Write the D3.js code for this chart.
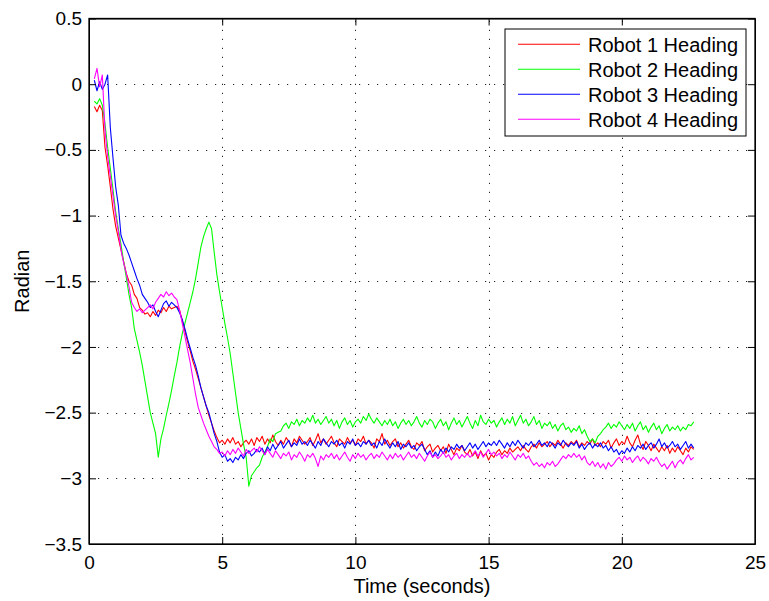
<!DOCTYPE html>
<html>
<head>
<meta charset="utf-8">
<script src="https://cdn.jsdelivr.net/npm/d3@7"></script>
<style>
  html, body { margin: 0; padding: 0; background: #fff; }
  svg { display: block; font-family: "Liberation Sans", Arial, Helvetica, sans-serif; }
  .axis text { font-size: 19px; fill: #000; }
  .axis line, .axis path { stroke: #000; }
</style>
</head>
<body>
<svg id="chart" width="769" height="601"></svg>
<script>
// Heading of each robot (radians), sampled every tStep seconds from tStart.
const tStart = 0.2;
const tStep = 0.1;

const robot1 = [
  -0.17, -0.21, -0.16, -0.2, -0.48, -0.62, -0.78, -0.95, -1.08, -1.17,
  -1.26, -1.35, -1.44, -1.5, -1.53, -1.6, -1.63, -1.7, -1.72, -1.75,
  -1.74, -1.77, -1.73, -1.76, -1.72, -1.74, -1.7, -1.73, -1.69, -1.71,
  -1.7, -1.69, -1.72, -1.8, -1.88, -1.96, -2.03, -2.11, -2.17, -2.24,
  -2.31, -2.38, -2.45, -2.52, -2.58, -2.64, -2.69, -2.73, -2.71, -2.74,
  -2.7, -2.73, -2.69, -2.74, -2.72, -2.76, -2.73, -2.71, -2.74, -2.7,
  -2.75, -2.69, -2.72, -2.68, -2.74, -2.7, -2.73, -2.67, -2.72, -2.75,
  -2.71, -2.74, -2.69, -2.72, -2.76, -2.7, -2.73, -2.68, -2.71, -2.74,
  -2.72, -2.69, -2.75, -2.71, -2.66, -2.73, -2.7, -2.74, -2.71, -2.68,
  -2.73, -2.76, -2.7, -2.72, -2.74, -2.69, -2.73, -2.71, -2.75, -2.7,
  -2.72, -2.68, -2.74, -2.71, -2.73, -2.77, -2.7, -2.72, -2.66, -2.74,
  -2.71, -2.75, -2.72, -2.7, -2.76, -2.73, -2.77, -2.74, -2.71, -2.76,
  -2.78, -2.73, -2.75, -2.72, -2.79, -2.76, -2.74, -2.8, -2.77, -2.75,
  -2.79, -2.76, -2.81, -2.74, -2.78, -2.82, -2.77, -2.79, -2.75, -2.8,
  -2.82, -2.78, -2.83, -2.8, -2.85, -2.79, -2.83, -2.81, -2.86, -2.82,
  -2.84, -2.8, -2.78, -2.82, -2.79, -2.81, -2.77, -2.8, -2.78, -2.76,
  -2.79, -2.75, -2.78, -2.8, -2.76, -2.74, -2.77, -2.73, -2.76, -2.74,
  -2.72, -2.76, -2.73, -2.75, -2.71, -2.74, -2.77, -2.73, -2.75, -2.72,
  -2.74, -2.71, -2.76, -2.73, -2.75, -2.72, -2.74, -2.7, -2.75, -2.73,
  -2.76, -2.72, -2.74, -2.71, -2.77, -2.73, -2.7, -2.75, -2.72, -2.74,
  -2.68, -2.73, -2.76, -2.71, -2.67, -2.74, -2.78, -2.72, -2.75, -2.79,
  -2.74, -2.77, -2.8, -2.76, -2.79, -2.75, -2.81, -2.77, -2.8, -2.76,
  -2.79, -2.82, -2.77, -2.8, -2.76, -2.78
];

const robot2 = [
  -0.13, -0.15, -0.11, -0.16, -0.3, -0.48, -0.64, -0.8, -0.97, -1.1,
  -1.22, -1.35, -1.47, -1.6, -1.7, -1.86, -1.95, -2.04, -2.14, -2.26,
  -2.38, -2.5, -2.58, -2.66, -2.84, -2.7, -2.62, -2.52, -2.43, -2.33,
  -2.22, -2.12, -2.0, -1.9, -1.82, -1.74, -1.66, -1.58, -1.48, -1.36,
  -1.24, -1.16, -1.1, -1.05, -1.1, -1.28, -1.45, -1.58, -1.7, -1.82,
  -1.93, -2.05, -2.2, -2.35, -2.5, -2.62, -2.74, -2.84, -3.06, -2.98,
  -2.95, -2.92, -2.9, -2.84, -2.8, -2.76, -2.7, -2.72, -2.66, -2.65,
  -2.64, -2.6, -2.58, -2.62, -2.57, -2.59, -2.55, -2.6, -2.56, -2.58,
  -2.54, -2.57, -2.52, -2.58, -2.55, -2.59, -2.56, -2.53, -2.58, -2.55,
  -2.6, -2.56, -2.62, -2.57, -2.54, -2.59, -2.56, -2.61, -2.57, -2.55,
  -2.58, -2.53, -2.56, -2.51, -2.55, -2.58, -2.54, -2.57, -2.6, -2.56,
  -2.59, -2.55, -2.6, -2.57, -2.62, -2.58, -2.55, -2.59, -2.56, -2.6,
  -2.57, -2.53, -2.58, -2.61, -2.56, -2.59, -2.55, -2.57, -2.62, -2.58,
  -2.55, -2.6, -2.57, -2.63, -2.58, -2.54, -2.59, -2.56, -2.61, -2.57,
  -2.53, -2.58, -2.62, -2.56, -2.6, -2.52, -2.57, -2.59, -2.55, -2.58,
  -2.56, -2.61, -2.57, -2.54, -2.59, -2.55, -2.58, -2.53, -2.6, -2.56,
  -2.52, -2.58, -2.55, -2.6, -2.57, -2.53, -2.59, -2.56, -2.62, -2.58,
  -2.6, -2.57, -2.62, -2.59, -2.64, -2.6, -2.58, -2.63, -2.61, -2.65,
  -2.62, -2.64, -2.6, -2.66, -2.63, -2.68, -2.72, -2.7, -2.73, -2.68,
  -2.66, -2.63, -2.61, -2.58, -2.62, -2.59, -2.61, -2.57, -2.6, -2.63,
  -2.59, -2.62, -2.58, -2.64, -2.6, -2.57, -2.63, -2.6, -2.65, -2.61,
  -2.58, -2.63, -2.6, -2.66, -2.62, -2.59, -2.64, -2.61, -2.63, -2.6,
  -2.64, -2.61, -2.63, -2.59, -2.6, -2.57
];

const robot3 = [
  0.03, -0.05, 0.02, -0.04, 0.0, 0.07, -0.33, -0.56, -0.78, -0.92,
  -1.15, -1.21, -1.25, -1.3, -1.36, -1.42, -1.48, -1.53, -1.6, -1.63,
  -1.66, -1.7, -1.68, -1.73, -1.77, -1.72, -1.67, -1.65, -1.69, -1.66,
  -1.68, -1.7, -1.74, -1.79, -1.86, -1.94, -2.01, -2.08, -2.14, -2.22,
  -2.31, -2.38, -2.45, -2.5, -2.58, -2.66, -2.72, -2.8, -2.84, -2.82,
  -2.87, -2.85, -2.88, -2.84, -2.86, -2.82, -2.85, -2.81, -2.79, -2.83,
  -2.81, -2.78, -2.8, -2.77, -2.82, -2.76, -2.79, -2.74, -2.78, -2.75,
  -2.72, -2.77, -2.74, -2.71, -2.76, -2.73, -2.75, -2.7, -2.74, -2.72,
  -2.75, -2.71, -2.74, -2.77, -2.72, -2.75, -2.7, -2.73, -2.76, -2.72,
  -2.74, -2.71, -2.75, -2.73, -2.77, -2.72, -2.74, -2.7, -2.75, -2.73,
  -2.76, -2.72, -2.74, -2.71, -2.75, -2.73, -2.77, -2.72, -2.75, -2.7,
  -2.74, -2.77, -2.73, -2.76, -2.72, -2.78, -2.74, -2.76, -2.73, -2.77,
  -2.75, -2.79, -2.76, -2.74, -2.78, -2.82, -2.79, -2.84, -2.8, -2.83,
  -2.78, -2.81, -2.77, -2.8, -2.76, -2.78, -2.74, -2.77, -2.75, -2.79,
  -2.76, -2.73, -2.77, -2.74, -2.78, -2.75, -2.72, -2.76, -2.73, -2.75,
  -2.72, -2.75, -2.71, -2.74, -2.77, -2.73, -2.76, -2.72, -2.75, -2.71,
  -2.74, -2.77, -2.73, -2.75, -2.72, -2.76, -2.74, -2.71, -2.75, -2.73,
  -2.76, -2.72, -2.74, -2.77, -2.73, -2.75, -2.71, -2.74, -2.76, -2.73,
  -2.75, -2.72, -2.77, -2.74, -2.78, -2.75, -2.73, -2.77, -2.74, -2.76,
  -2.73, -2.77, -2.75, -2.79, -2.76, -2.8, -2.78, -2.82, -2.79, -2.81,
  -2.77, -2.8, -2.76, -2.79, -2.75, -2.77, -2.74, -2.78, -2.75, -2.73,
  -2.77, -2.74, -2.7, -2.76, -2.73, -2.77, -2.75, -2.72, -2.76, -2.74,
  -2.78, -2.75, -2.72, -2.77, -2.74, -2.77
];

const robot4 = [
  0.04, 0.12, -0.02, 0.07, -0.35, -0.55, -0.7, -0.85, -1.0, -1.12,
  -1.26, -1.36, -1.44, -1.54, -1.66, -1.7, -1.73, -1.71, -1.74, -1.72,
  -1.7, -1.68, -1.71, -1.66, -1.63, -1.6, -1.62, -1.58, -1.61, -1.59,
  -1.62, -1.64, -1.72, -1.82, -1.92, -2.02, -2.12, -2.24, -2.36, -2.46,
  -2.52, -2.58, -2.63, -2.68, -2.72, -2.76, -2.78, -2.81, -2.8, -2.83,
  -2.79, -2.82, -2.78, -2.81, -2.77, -2.8, -2.83, -2.78, -2.81, -2.79,
  -2.77, -2.8, -2.76, -2.79, -2.82, -2.78, -2.81, -2.84, -2.79, -2.82,
  -2.85, -2.81, -2.83, -2.8, -2.86, -2.82, -2.84, -2.8, -2.83, -2.87,
  -2.82, -2.84, -2.81, -2.85, -2.91, -2.83, -2.86, -2.82, -2.84, -2.81,
  -2.85, -2.82, -2.86, -2.83, -2.8, -2.84, -2.87, -2.82, -2.85, -2.81,
  -2.84, -2.82, -2.86, -2.83, -2.81, -2.85, -2.82, -2.84, -2.8, -2.83,
  -2.86, -2.82, -2.85, -2.81, -2.84, -2.82, -2.86, -2.83, -2.8, -2.84,
  -2.82, -2.85, -2.81, -2.84, -2.87, -2.83, -2.8, -2.84, -2.82, -2.85,
  -2.83, -2.8, -2.84, -2.82, -2.86, -2.83, -2.81, -2.85, -2.82, -2.84,
  -2.81, -2.84, -2.82, -2.79, -2.83, -2.8, -2.84, -2.81, -2.78, -2.82,
  -2.8, -2.83, -2.81, -2.85, -2.82, -2.84, -2.8, -2.83, -2.86, -2.82,
  -2.84, -2.81, -2.85, -2.83, -2.87, -2.9, -2.88, -2.91, -2.89, -2.92,
  -2.88, -2.9, -2.87, -2.91, -2.89, -2.86, -2.83, -2.85, -2.82, -2.84,
  -2.81, -2.84, -2.82, -2.86, -2.83, -2.88, -2.9, -2.87, -2.91, -2.88,
  -2.92, -2.89, -2.93, -2.88, -2.91, -2.89, -2.86, -2.84, -2.87, -2.83,
  -2.86, -2.84, -2.88, -2.85, -2.83, -2.87, -2.84, -2.86, -2.89, -2.85,
  -2.87, -2.84, -2.88, -2.91, -2.89, -2.93, -2.9, -2.87, -2.92, -2.88,
  -2.86, -2.89, -2.85, -2.82, -2.86, -2.84
];

const seriesNames = ["Robot 1 Heading", "Robot 2 Heading", "Robot 3 Heading", "Robot 4 Heading"];
const seriesValues = [robot1, robot2, robot3, robot4];
const seriesColors = ["#ff0000", "#00ff00", "#0000ff", "#ff00ff"];

const xTicks = [0, 5, 10, 15, 20, 25];
const xTickLabels = ["0", "5", "10", "15", "20", "25"];
const yTicks = [0.5, 0, -0.5, -1, -1.5, -2, -2.5, -3, -3.5];
const yTickLabels = ["0.5", "0", "\u22120.5", "\u22121", "\u22121.5", "\u22122", "\u22122.5", "\u22123", "\u22123.5"];

const xLabel = "Time (seconds)";
const yLabel = "Radian";

// ---- layout ----
const plot = { left: 89, right: 755, top: 18.5, bottom: 544 };
const tickLen = 7;

const svg = d3.select("#chart");

const x = d3.scaleLinear().domain([0, 25]).range([plot.left, plot.right]);
const y = d3.scaleLinear().domain([-3.5, 0.5]).range([plot.bottom, plot.top]);

// dotted grid
const grid = svg.append("g").attr("stroke", "#222").attr("stroke-width", 1)
  .attr("stroke-dasharray", "1.2,7.8");
grid.selectAll("line.gx").data(xTicks.slice(1, -1)).join("line")
  .attr("x1", d => Math.round(x(d)) + 0.5).attr("x2", d => Math.round(x(d)) + 0.5)
  .attr("y1", plot.bottom).attr("y2", plot.top);
grid.selectAll("line.gy").data(yTicks.slice(1, -1)).join("line")
  .attr("y1", d => Math.round(y(d)) + 0.5).attr("y2", d => Math.round(y(d)) + 0.5)
  .attr("x1", plot.left).attr("x2", plot.right);

// data lines (drawn in legend order so Robot 4 ends up on top)
const line = d3.line()
  .x((v, i) => x(tStart + i * tStep))
  .y(v => y(v));

svg.append("g").selectAll("path").data(seriesValues).join("path")
  .attr("d", d => line(d))
  .attr("fill", "none")
  .attr("stroke", (d, i) => seriesColors[i])
  .attr("stroke-width", 1.1)
  .attr("stroke-linejoin", "round");

// axes: inward ticks on all four sides, labels bottom and left
const fmtX = d => xTickLabels[xTicks.indexOf(d)];
const fmtY = d => yTickLabels[yTicks.indexOf(d)];

svg.append("g").attr("class", "axis")
  .attr("transform", `translate(0,${plot.bottom})`)
  .call(d3.axisBottom(x).tickValues(xTicks).tickFormat(fmtX)
    .tickSizeInner(-tickLen).tickSizeOuter(0).tickPadding(12));

svg.append("g").attr("class", "axis")
  .attr("transform", `translate(0,${plot.top})`)
  .call(d3.axisTop(x).tickValues(xTicks).tickFormat("")
    .tickSizeInner(-tickLen).tickSizeOuter(0));

svg.append("g").attr("class", "axis")
  .attr("transform", `translate(${plot.left},0)`)
  .call(d3.axisLeft(y).tickValues(yTicks).tickFormat(fmtY)
    .tickSizeInner(-tickLen).tickSizeOuter(0).tickPadding(7));

svg.append("g").attr("class", "axis")
  .attr("transform", `translate(${plot.right},0)`)
  .call(d3.axisRight(y).tickValues(yTicks).tickFormat("")
    .tickSizeInner(-tickLen).tickSizeOuter(0));

svg.selectAll(".axis text").attr("font-family", null);

// plot frame
svg.append("rect")
  .attr("x", plot.left).attr("y", plot.top)
  .attr("width", plot.right - plot.left).attr("height", plot.bottom - plot.top)
  .attr("fill", "none").attr("stroke", "#000").attr("stroke-width", 1.3);

// axis titles
svg.append("text")
  .attr("x", (plot.left + plot.right) / 2).attr("y", 593)
  .attr("text-anchor", "middle").attr("font-size", 20)
  .text(xLabel);

svg.append("text")
  .attr("transform", `translate(29,${(plot.top + plot.bottom) / 2}) rotate(-90)`)
  .attr("text-anchor", "middle").attr("font-size", 20)
  .text(yLabel);

// legend
const legend = svg.append("g");
legend.append("rect")
  .attr("x", 505).attr("y", 29).attr("width", 241).attr("height", 107)
  .attr("fill", "#fff").attr("stroke", "#000").attr("stroke-width", 1);

const rowY = d3.scalePoint().domain(seriesNames).range([44.3, 119.3]);
const rows = legend.selectAll("g.row").data(seriesNames).join("g")
  .attr("transform", d => `translate(0,${rowY(d)})`);
rows.append("line")
  .attr("x1", 518).attr("x2", 580).attr("y1", 0).attr("y2", 0)
  .attr("stroke", (d, i) => seriesColors[i]).attr("stroke-width", 1.1);
rows.append("text")
  .attr("x", 588).attr("y", 7.5).attr("font-size", 20)
  .text(d => d);
</script>
</body>
</html>
